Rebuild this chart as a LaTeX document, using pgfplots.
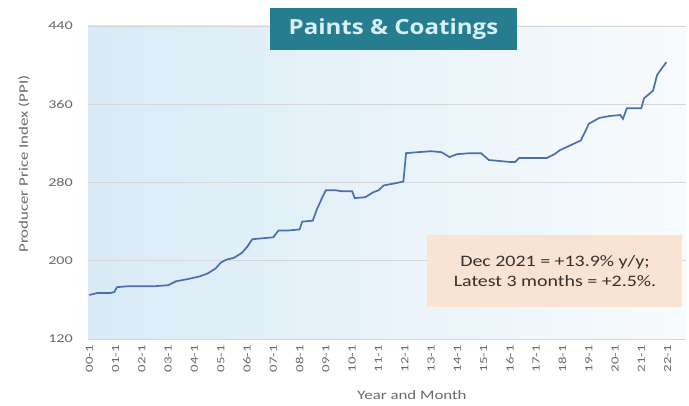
\documentclass[border=0pt]{standalone}
\usepackage{fontspec}
\setmainfont{Carlito}
\newfontfamily\titlefont{Open Sans}
\usepackage{graphicx}
\usepackage{pgfplots}
\pgfplotsset{compat=1.18}
\definecolor{bgblue}{RGB}{216,235,246}
\definecolor{bgwhite}{RGB}{248,251,253}
\definecolor{linecol}{RGB}{74,112,172}
\definecolor{titlebg}{RGB}{38,125,143}
\definecolor{titlefg}{RGB}{214,240,243}
\definecolor{notebg}{RGB}{251,227,211}
\definecolor{ticktext}{RGB}{105,105,105}
\definecolor{gridcol}{RGB}{215,215,215}
\newcommand\tl[1]{\scalebox{1.35}[1]{#1}}
\begin{document}
\begin{tikzpicture}
\useasboundingbox (0,0) rectangle (689bp,406bp);
\begin{axis}[
  at={(88bp,67bp)}, anchor=south west,
  scale only axis, width=598bp, height=313bp,
  xmin=-0.05, xmax=22.7, ymin=120, ymax=440,
  ytick={120,200,280,360,440},
  yticklabels={\tl{120},\tl{200},\tl{280},\tl{360},\tl{440}},
  xtick={0,1,...,22},
  xticklabels={\tl{00-1},\tl{01-1},\tl{02-1},\tl{03-1},\tl{04-1},\tl{05-1},\tl{06-1},\tl{07-1},\tl{08-1},\tl{09-1},\tl{10-1},\tl{11-1},\tl{12-1},\tl{13-1},\tl{14-1},\tl{15-1},\tl{16-1},\tl{17-1},\tl{18-1},\tl{19-1},\tl{20-1},\tl{21-1},\tl{22-1}},
  xticklabel style={rotate=90, anchor=east, inner sep=0pt, font=\fontsize{11}{12}\selectfont, text=ticktext},
  xticklabel shift=6bp,
  yticklabel style={anchor=east, inner sep=0pt, font=\fontsize{12}{13}\selectfont, text=ticktext},
  yticklabel shift=15bp,
  ymajorgrids, grid style={gridcol, line width=0.8pt},
  axis line style={draw=none},
  major tick length=0pt,
  axis background/.style={shade, shading angle=60, left color=bgblue, right color=bgwhite},
  clip=false,
]
\addplot[linecol, line width=1.7pt] coordinates {
(0.00,165) (0.3,167) (0.8,167) (0.95,168) (1.05,173) (1.5,174) (2.0,174) (2.5,174) (3.0,175)
(3.3,179) (3.7,181) (4.2,184) (4.5,187) (4.8,192) (5.0,198) (5.2,201) (5.5,203) (5.8,208)
(6.0,214) (6.2,222) (6.6,223) (7.0,224) (7.2,231) (7.6,231) (8.0,232) (8.1,240) (8.5,241)
(8.65,252) (8.85,264) (9.0,272) (9.4,272) (9.6,271) (10.0,271) (10.1,264) (10.5,265) (10.8,270)
(11.0,272) (11.2,277) (11.6,279) (11.95,281) (12.05,310) (12.5,311) (13.0,312) (13.4,311)
(13.7,306) (14.0,309) (14.5,310) (14.9,310) (15.2,303) (15.6,302) (16.0,301) (16.2,301)
(16.35,305) (17.0,305) (17.4,305) (17.7,309) (17.9,313) (18.3,318) (18.7,323) (18.9,334)
(19.0,340) (19.4,346) (19.8,348) (20.2,349) (20.3,345) (20.45,356) (21.0,356) (21.1,366)
(21.45,374) (21.6,390) (21.95,403)
};
\end{axis}
\node[rotate=90, text=ticktext, font=\fontsize{13}{14}\selectfont] at (24bp,242bp) {\scalebox{1.3}[1]{Producer Price Index (PPI)}};
\node[text=ticktext, font=\fontsize{13}{14}\selectfont] at (412bp,11bp) {\scalebox{1.3}[1]{Year and Month}};
\fill[titlebg] (270bp,356bp) rectangle (517bp,398bp);
\node[text=titlefg, font=\titlefont\bfseries\fontsize{21}{24}\selectfont] at (393.5bp,377bp) {\scalebox{1.15}[1]{Paints \& Coatings}};
\fill[notebg] (427bp,99bp) rectangle (682bp,171bp);
\node[align=center, text={rgb,255:red,55;green,48;blue,44}, font=\fontsize{16}{21}\selectfont] at (555bp,135bp) {\scalebox{1.25}[1]{Dec 2021 = +13.9\% y/y;}\\\scalebox{1.25}[1]{Latest 3 months = +2.5\%.}};
\end{tikzpicture}
\end{document}
